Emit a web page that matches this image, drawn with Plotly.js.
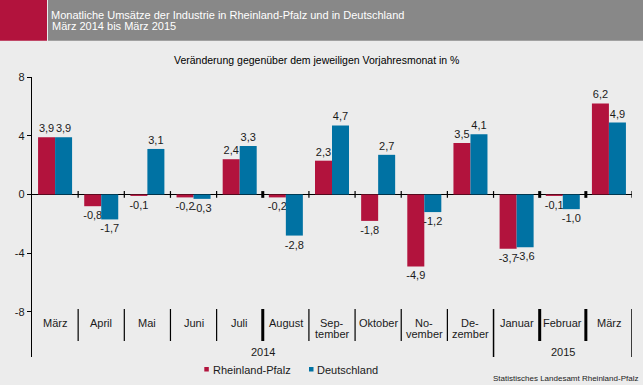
<!DOCTYPE html>
<html>
<head>
<meta charset="utf-8">
<script src="https://cdn.plot.ly/plotly-3.0.1.min.js"></script>
<style>
  html, body { margin: 0; padding: 0; background: #ececec; }
  #chart { width: 643px; height: 385px; }
</style>
</head>
<body>
<div id="chart"></div>
<script>
// ---- data ----
const months = ['März', 'April', 'Mai', 'Juni', 'Juli', 'August', 'Sep-<br>tember', 'Oktober',
                'No-<br>vember', 'De-<br>zember', 'Januar', 'Februar', 'März'];
const monthYear = ['2014', '2014', '2014', '2014', '2014', '2014', '2014', '2014', '2014', '2014',
                   '2015', '2015', '2015'];
const rheinlandPfalz = [3.9, -0.8, -0.1, -0.2, 2.4, -0.2, 2.3, -1.8, -4.9, 3.5, -3.7, -0.1, 6.2];
const deutschland    = [3.9, -1.7, 3.1, -0.3, 3.3, -2.8, 4.7, 2.7, -1.2, 4.1, -3.6, -1.0, 4.9];
const seriesNames = ['Rheinland-Pfalz', 'Deutschland'];
const yTicks = [-8, -4, 0, 4, 8];
const titleText = 'Monatliche Umsätze der Industrie in Rheinland-Pfalz und in Deutschland';
const periodText = 'März 2014 bis März 2015';
const subtitleText = 'Veränderung gegenüber dem jeweiligen Vorjahresmonat in %';
const sourceText = 'Statistisches Landesamt Rheinland-Pfalz';

// ---- style ----
const FONT = 'Liberation Sans, Arial, sans-serif';
const RED = '#b2133d';
const BLUE = '#0072a3';
const TXT = '#1a1a1a';
const W = 643, H = 385, ML = 32, MR = 11, MT = 77, MB = 28;
const PW = W - ML - MR, PH = H - MT - MB;
const px2x = p => (p - ML) / PW;
const px2y = p => (H - MB - p) / PH;
const YMIN = -11.07, YMAX = 8;
const pxPerUnit = PH / (YMAX - YMIN);
const zeroPx = MT + YMAX * pxPerUnit;
const pyData = p => -(p - zeroPx) / pxPerUnit;

const xIdx = months.map((_, i) => i);
const fmt = v => v.toFixed(1).replace('.', ',');

const traces = [
  { type: 'bar', name: seriesNames[0], x: xIdx, y: rheinlandPfalz,
    marker: { color: RED }, text: rheinlandPfalz.map(fmt) },
  { type: 'bar', name: seriesNames[1], x: xIdx, y: deutschland,
    marker: { color: BLUE }, text: deutschland.map(fmt) }
].map(t => Object.assign(t, {
  textposition: 'outside', cliponaxis: false, constraintext: 'none', textangle: 0,
  textfont: { family: FONT, size: 11, color: TXT }, hoverinfo: 'skip', showlegend: false
}));

const shapes = [];
const annotations = [];
const yearStarts = [];
monthYear.forEach((y, i) => { if (i === 0 || monthYear[i - 1] !== y) yearStarts.push(i); });
const thick = new Set([4.5, 10.5, 11.5]);
for (let i = 0; i < months.length; i++) {
  const b = i + 0.5;
  const isYearEnd = (i === months.length - 1) || monthYear[i + 1] !== monthYear[i];
  const w = thick.has(b) ? 3 : 1.2;
  shapes.push({ type: 'line', xref: 'x', yref: 'y', x0: b, x1: b, y0: -0.23, y1: 0.23,
                line: { color: '#000', width: w } });
  shapes.push({ type: 'line', xref: 'x', yref: 'y', x0: b, x1: b, y0: pyData(309),
                y1: isYearEnd ? YMIN : pyData(341), line: { color: '#000', width: isYearEnd ? 1.5 : w } });
  const lines = months[i].split('<br>');
  lines.forEach((ln, k) => {
    annotations.push({ x: i, xref: 'x', y: pyData(322.7 + k * 11.3), yref: 'y', xanchor: 'center',
                       yanchor: 'middle', text: ln, showarrow: false,
                       font: { family: FONT, size: 11, color: TXT } });
  });
}
yearStarts.forEach((s, k) => {
  const e = (k + 1 < yearStarts.length ? yearStarts[k + 1] : months.length) - 1;
  annotations.push({ x: (s + e) / 2, xref: 'x', y: pyData(352), yref: 'y', xanchor: 'center',
                     yanchor: 'middle', text: monthYear[s], showarrow: false,
                     font: { family: FONT, size: 11, color: TXT } });
});

// header band
shapes.push({ type: 'rect', xref: 'paper', yref: 'paper', x0: px2x(0), x1: px2x(47),
              y0: px2y(40.7), y1: px2y(0), fillcolor: '#b2133d', line: { width: 0 } });
shapes.push({ type: 'rect', xref: 'paper', yref: 'paper', x0: px2x(48), x1: px2x(643),
              y0: px2y(40.7), y1: px2y(0), fillcolor: '#888888', line: { width: 0 } });

// header second line + subtitle
annotations.push({ xref: 'paper', yref: 'paper', x: px2x(50), xanchor: 'left', y: px2y(26.5),
                   yanchor: 'middle', text: periodText, showarrow: false,
                   font: { family: FONT, size: 11, color: '#fff' } });
annotations.push({ xref: 'paper', yref: 'paper', x: px2x(316), xanchor: 'center', y: px2y(59.5),
                   yanchor: 'middle', text: subtitleText, showarrow: false,
                   font: { family: FONT, size: 10.5, color: '#000' } });
// legend
const legendItems = [{ sq: 204.3, tx: 210.5 }, { sq: 309, tx: 315 }];
legendItems.forEach((it, k) => {
  shapes.push({ type: 'rect', xref: 'paper', yref: 'paper', x0: px2x(it.sq), x1: px2x(it.sq + 4.5),
                y0: px2y(371.5), y1: px2y(367), fillcolor: k === 0 ? RED : BLUE, line: { width: 0 } });
  annotations.push({ xref: 'paper', yref: 'paper', x: px2x(it.tx), xanchor: 'left', y: px2y(369.5),
                     yanchor: 'middle', text: seriesNames[k], showarrow: false,
                     font: { family: FONT, size: 11, color: TXT } });
});
// source
annotations.push({ xref: 'paper', yref: 'paper', x: px2x(640), xanchor: 'right', y: px2y(378.5),
                   yanchor: 'middle', text: sourceText, showarrow: false,
                   font: { family: FONT, size: 8, color: '#222' } });

const layout = {
  width: W, height: H,
  margin: { l: ML, r: MR, t: MT, b: MB, pad: 0 },
  paper_bgcolor: '#ececec', plot_bgcolor: '#ececec',
  title: { text: titleText, x: 51 / W, xanchor: 'left', xref: 'container', y: 1 - 15 / H,
           yanchor: 'middle', yref: 'container', font: { family: FONT, size: 11, color: '#fff' } },
  barmode: 'group', bargap: 0.263, bargroupgap: 0,
  showlegend: false,
  xaxis: { range: [-0.5, 12.5], showgrid: false, zeroline: false, showticklabels: false,
           showline: false, ticks: '', fixedrange: true },
  yaxis: { range: [YMIN, YMAX], tickvals: yTicks, ticktext: yTicks.map(String), ticks: 'outside',
           ticklen: 4, tickcolor: '#000', tickwidth: 1, showline: true, linecolor: '#000', linewidth: 1.2,
           zeroline: true, zerolinecolor: '#000', zerolinewidth: 1.6, showgrid: false,
           tickfont: { family: FONT, size: 11, color: TXT }, fixedrange: true },
  shapes: shapes,
  annotations: annotations,
  hovermode: false
};

Plotly.newPlot('chart', traces, layout, { displayModeBar: false, staticPlot: true });
</script>
</body>
</html>
